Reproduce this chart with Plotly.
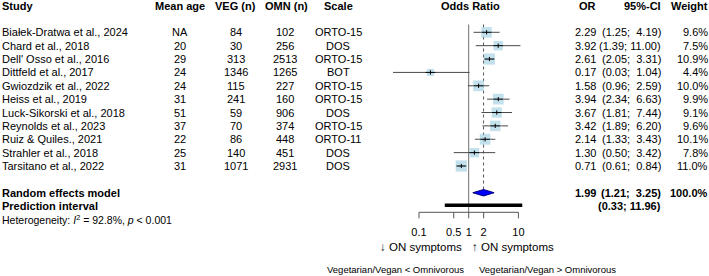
import plotly.graph_objects as go
import numpy as np

# ---------------- data ----------------
studies = ["Białek-Dratwa et al., 2024", "Chard et al., 2018", "Dell' Osso et al., 2016",
           "Dittfeld et al., 2017", "Gwiozdzik et al., 2022", "Heiss et al., 2019",
           "Luck-Sikorski et al., 2018", "Reynolds et al., 2023", "Ruiz & Quiles., 2021",
           "Strahler et al., 2018", "Tarsitano et al., 2022"]
mean_age = ["NA", "20", "29", "24", "24", "31", "51", "37", "22", "25", "31"]
veg_n = [84, 30, 313, 1346, 115, 241, 59, 70, 86, 140, 1071]
omn_n = [102, 256, 2513, 1265, 227, 160, 906, 374, 448, 451, 2931]
scale = ["ORTO-15", "DOS", "ORTO-15", "BOT", "ORTO-15", "ORTO-15", "DOS", "ORTO-15",
         "ORTO-11", "DOS", "DOS"]
odds = [2.29, 3.92, 2.61, 0.17, 1.58, 3.94, 3.67, 3.42, 2.14, 1.30, 0.71]
ci_low = [1.25, 1.39, 2.05, 0.03, 0.96, 2.34, 1.81, 1.89, 1.33, 0.50, 0.61]
ci_up = [4.19, 11.00, 3.31, 1.04, 2.59, 6.63, 7.44, 6.20, 3.43, 3.42, 0.84]
weight = [9.6, 7.5, 10.9, 4.4, 10.0, 9.9, 9.1, 9.6, 10.1, 7.8, 11.0]

re_or, re_low, re_up = 1.99, 1.21, 3.25
pi_low, pi_up = 0.33, 11.96
i2, p_text = 92.8, "0.001"
tick_vals = [0.1, 0.5, 1, 2, 10]
tick_text = ["0.1", "0.5", "1", "2", "10"]

# ---------------- layout helpers ----------------
W, H = 709, 276
ROW0_PX, ROW_PX = 32.3, 13.37          # pixel position of first row, row spacing
X1_PX, DEC_PX = 468.7, 49.7             # pixel of OR=1, pixels per decade
FONT = "Liberation Sans, Arial, sans-serif"
FS = 11


def px2row(py):
    return (py - ROW0_PX) / ROW_PX


def px2paper(px):
    return px / W


rows = list(range(len(studies)))
RE_ROW = len(studies) + 1
PI_ROW = RE_ROW + 1
HET_ROW = PI_ROW + 1
HEAD_ROW = -2
AXIS_ROW = px2row(212.3)
TICK_END = px2row(218.3)
TICKLAB_ROW = px2row(233)
ON_ROW = px2row(246.7)
VEG_ROW = px2row(269.2)
TOP_ROW = px2row(24.5)

fig = go.Figure()

# reference line at OR = 1
fig.add_trace(go.Scatter(x=[1, 1], y=[TOP_ROW, AXIS_ROW], mode="lines",
                         line=dict(color="#6e6e6e", width=1), hoverinfo="skip"))
# dotted line at random-effects estimate
fig.add_trace(go.Scatter(x=[re_or, re_or], y=[TOP_ROW, RE_ROW - 0.24], mode="lines",
                         line=dict(color="#555555", width=1, dash="dot"), hoverinfo="skip"))

# CI lines
for r, lo, hi in zip(rows, ci_low, ci_up):
    fig.add_trace(go.Scatter(x=[lo, hi], y=[r, r], mode="lines",
                             line=dict(color="#4a4a4a", width=1), hoverinfo="skip"))

# squares
fig.add_trace(go.Scatter(x=odds, y=rows, mode="markers",
                         marker=dict(symbol="square", color="#a9d4e4",
                                     size=[3.4 * np.sqrt(w) for w in weight],
                                     line=dict(width=0)),
                         hoverinfo="skip"))
# point estimate marks
fig.add_trace(go.Scatter(x=odds, y=rows, mode="markers",
                         marker=dict(symbol="line-ew", size=7,
                                     line=dict(color="black", width=1)),
                         hoverinfo="skip"))
fig.add_trace(go.Scatter(x=odds, y=rows, mode="markers",
                         marker=dict(symbol="line-ns", size=3,
                                     line=dict(color="black", width=1)),
                         hoverinfo="skip"))

# diamond
dh = 0.24
fig.add_trace(go.Scatter(x=[re_low, re_or, re_up, re_or, re_low],
                         y=[RE_ROW, RE_ROW - dh, RE_ROW, RE_ROW + dh, RE_ROW],
                         mode="lines", fill="toself", fillcolor="#0000ff",
                         line=dict(color="#000080", width=1), hoverinfo="skip"))
# prediction interval
fig.add_trace(go.Scatter(x=[pi_low, pi_up], y=[PI_ROW - 0.06, PI_ROW - 0.06], mode="lines",
                         line=dict(color="black", width=3.5), hoverinfo="skip"))

# bottom axis
fig.add_trace(go.Scatter(x=[tick_vals[0], tick_vals[-1]], y=[AXIS_ROW, AXIS_ROW], mode="lines",
                         line=dict(color="#555555", width=1), hoverinfo="skip"))
for t in tick_vals:
    fig.add_trace(go.Scatter(x=[t, t], y=[AXIS_ROW, TICK_END], mode="lines",
                             line=dict(color="#555555", width=1), hoverinfo="skip"))
fig.add_trace(go.Scatter(x=tick_vals, y=[TICKLAB_ROW] * len(tick_vals), mode="text",
                         text=tick_text, textposition="middle center",
                         textfont=dict(family=FONT, size=FS, color="black"),
                         hoverinfo="skip"))

ann = []


def txt(s, px, row, anchor="left", size=FS):
    ann.append(dict(text=s, x=px2paper(px), y=row, xref="paper", yref="y",
                    xanchor=anchor, yanchor="middle", showarrow=False,
                    font=dict(family=FONT, size=size, color="black"), borderpad=0))


# headers
txt("<b>Study</b>", 1, HEAD_ROW, "left")
txt("<b>Mean age</b>", 180, HEAD_ROW, "center")
txt("<b>VEG (n)</b>", 235.5, HEAD_ROW, "center")
txt("<b>OMN (n)</b>", 286, HEAD_ROW, "center")
txt("<b>Scale</b>", 338, HEAD_ROW, "center")
txt("<b>Odds Ratio</b>", 470, HEAD_ROW, "center")
txt("<b>OR</b>", 596.5, HEAD_ROW, "right")
txt("<b>95%-CI</b>", 662, HEAD_ROW, "right")
txt("<b>Weight</b>", 708.5, HEAD_ROW, "right")


def ci_str(lo, hi):
    sep = ";\u00a0\u00a0" if hi < 10 else "; "
    return f"({lo:.2f}{sep}{hi:.2f})"


for r in rows:
    txt(studies[r], 1, r, "left")
    txt(mean_age[r], 180, r, "center")
    txt(str(veg_n[r]), 235.5, r, "center")
    txt(str(omn_n[r]), 285, r, "center")
    txt(scale[r], 338, r, "center")
    txt(f"{odds[r]:.2f}", 596.5, r, "right")
    txt(ci_str(ci_low[r], ci_up[r]), 662, r, "right")
    txt(f"{weight[r]:.1f}%", 708.5, r, "right")

txt("<b>Random effects model</b>", 1, RE_ROW, "left")
txt("<b>Prediction interval</b>", 1, PI_ROW, "left")
txt(f"Heterogeneity: <i>I</i><sup>2</sup> = {i2}%, <i>p</i> &lt; {p_text}", 1, HET_ROW, "left", 10.5)
txt(f"<b>{re_or:.2f}</b>", 596.5, RE_ROW, "right")
txt(f"<b>{ci_str(re_low, re_up)}</b>", 662, RE_ROW, "right")
txt("<b>100.0%</b>", 708.5, RE_ROW, "right")
txt(f"<b>{ci_str(pi_low, pi_up)}</b>", 662, PI_ROW, "right")

txt("\u2193 ON symptoms", 463, ON_ROW, "right", 11.5)
txt("\u2191 ON symptoms", 471, ON_ROW, "left", 11.5)
txt("Vegetarian/Vegan &lt; Omnivorous", 465, VEG_ROW, "right", 9.5)
txt("Vegetarian/Vegan &gt; Omnivorous", 478, VEG_ROW, "left", 9.5)

fig.update_layout(
    width=W, height=H,
    margin=dict(l=0, r=0, t=0, b=0),
    paper_bgcolor="white", plot_bgcolor="white",
    showlegend=False,
    annotations=ann,
    xaxis=dict(type="log", range=[(0 - X1_PX) / DEC_PX, (W - X1_PX) / DEC_PX],
               visible=False, fixedrange=True),
    yaxis=dict(range=[px2row(H), px2row(0)], visible=False, fixedrange=True),
)

fig.write_html("out.html")
